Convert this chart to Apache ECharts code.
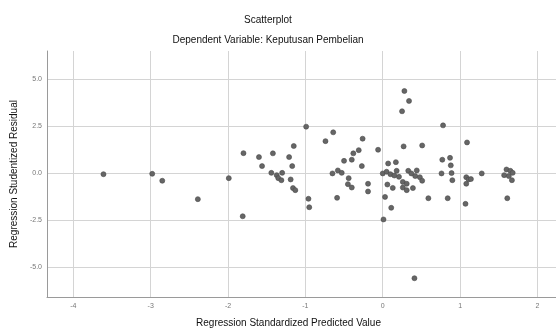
<!DOCTYPE html>
<html>
<head>
<meta charset="utf-8">
<script src="https://cdn.jsdelivr.net/npm/echarts@6/dist/echarts.min.js"></script>
<style>
  html, body { margin: 0; padding: 0; background: #fff; }
  #main { width: 556px; height: 330px; }
</style>
</head>
<body>
<div id="main"></div>
<script>
// Regression Standardized Predicted Value (x)
var predicted = [
    -3.61, -2.98, -2.85, -2.39, -1.99, -1.80, -1.81, -1.60, -1.56, -1.44,
    -1.42, -1.37, -1.35, -1.31, -1.30, -1.21, -1.19, -1.17, -1.16, -1.15,
    -1.13, -0.99, -0.96, -0.95, -0.74, -0.65, -0.64, -0.59, -0.58, -0.53,
    -0.50, -0.45, -0.44, -0.40, -0.40, -0.38, -0.31, -0.27, -0.26, -0.19,
    -0.19, -0.06, 0.00, 0.01, 0.03, 0.05, 0.06, 0.07, 0.10, 0.11,
    0.13, 0.15, 0.17, 0.18, 0.21, 0.25, 0.26, 0.26, 0.27, 0.28,
    0.31, 0.31, 0.33, 0.34, 0.37, 0.39, 0.41, 0.42, 0.44, 0.48,
    0.51, 0.51, 0.59, 0.76, 0.77, 0.78, 0.84, 0.87, 0.88, 0.89,
    0.90, 1.07, 1.08, 1.08, 1.09, 1.11, 1.14, 1.28, 1.57, 1.60,
    1.61, 1.63, 1.65, 1.67, 1.68
];

// Regression Studentized Residual (y)
var residual = [
    -0.04, -0.02, -0.39, -1.37, -0.25, 1.08, -2.28, 0.87, 0.39, 0.03,
    1.07, -0.09, -0.25, -0.36, 0.03, 0.87, -0.32, 0.39, -0.78, 1.46,
    -0.89, 2.49, -1.35, -1.80, 1.72, 0.00, 2.19, -1.30, 0.16, 0.03,
    0.67, -0.57, -0.25, 0.73, -0.75, 1.07, 1.24, 0.39, 1.85, -0.55,
    -0.96, 1.26, 0.00, -2.45, -1.25, 0.09, -0.59, 0.53, -0.04, -1.83,
    -0.77, -0.11, 0.60, 0.14, -0.18, 3.31, -0.45, -0.75, 1.44, 4.39,
    -0.55, -0.89, 0.14, 3.86, 0.00, -0.78, -5.58, -0.14, 0.16, -0.20,
    1.49, -0.39, -1.32, 0.00, 0.73, 2.56, -1.32, 0.83, 0.43, 0.02,
    -0.36, -1.62, -0.20, -0.55, 1.65, -0.32, -0.30, 0.00, -0.09, 0.21,
    -1.32, -0.14, 0.14, -0.36, 0.03
];

var xTicks = [-4, -3, -2, -1, 0, 1, 2];
var yTicks = [-5, -2.5, 0, 2.5, 5];

var points = [];
for (var i = 0; i < predicted.length; i++) {
    points.push([predicted[i], residual[i]]);
}

var myChart = echarts.init(document.getElementById('main'));

var font = '"Liberation Sans", Arial, sans-serif';

var option = {
    animation: false,
    backgroundColor: '#ffffff',
    textStyle: { fontFamily: font },
    graphic: [
        {
            type: 'text',
            x: 268,
            y: 20,
            style: {
                text: 'Scatterplot',
                fill: '#111',
                font: '10px ' + font,
                textAlign: 'center',
                textVerticalAlign: 'middle'
            }
        },
        {
            type: 'text',
            x: 268,
            y: 40,
            style: {
                text: 'Dependent Variable: Keputusan Pembelian',
                fill: '#111',
                font: '10px ' + font,
                textAlign: 'center',
                textVerticalAlign: 'middle'
            }
        }
    ],
    grid: {
        left: 47,
        right: 0,
        top: 51,
        bottom: 33,
        outerBoundsMode: 'none'
    },
    xAxis: {
        type: 'value',
        min: -4.34,
        max: 2.24,
        name: 'Regression Standardized Predicted Value',
        nameLocation: 'middle',
        nameGap: 21,
        nameTextStyle: {
            color: '#111',
            fontSize: 10,
            padding: [0, 26, 0, 0]
        },
        axisLine: { show: true, onZero: false, lineStyle: { color: '#9a9a9a', width: 1 } },
        axisTick: { show: false, customValues: xTicks },
        axisLabel: {
            customValues: xTicks,
            color: '#777',
            fontSize: 7,
            margin: 6
        },
        splitLine: { show: true, lineStyle: { color: '#d4d4d4', width: 1 } }
    },
    yAxis: {
        type: 'value',
        min: -6.58,
        max: 6.52,
        name: 'Regression Studentized Residual',
        nameLocation: 'middle',
        nameGap: 25,
        nameTextStyle: {
            color: '#111',
            fontSize: 10
        },
        axisLine: { show: true, onZero: false, lineStyle: { color: '#9a9a9a', width: 1 } },
        axisTick: { show: false, customValues: yTicks },
        axisLabel: {
            customValues: yTicks,
            color: '#777',
            fontSize: 7,
            margin: 5,
            formatter: function (v) { return v.toFixed(1); }
        },
        splitLine: { show: true, lineStyle: { color: '#d4d4d4', width: 1 } }
    },
    series: [
        {
            type: 'scatter',
            symbol: 'circle',
            symbolSize: 5,
            itemStyle: {
                color: '#666666',
                borderColor: '#4a4a4a',
                borderWidth: 0.6,
                opacity: 1
            },
            data: points
        }
    ]
};

myChart.setOption(option);
</script>
</body>
</html>
